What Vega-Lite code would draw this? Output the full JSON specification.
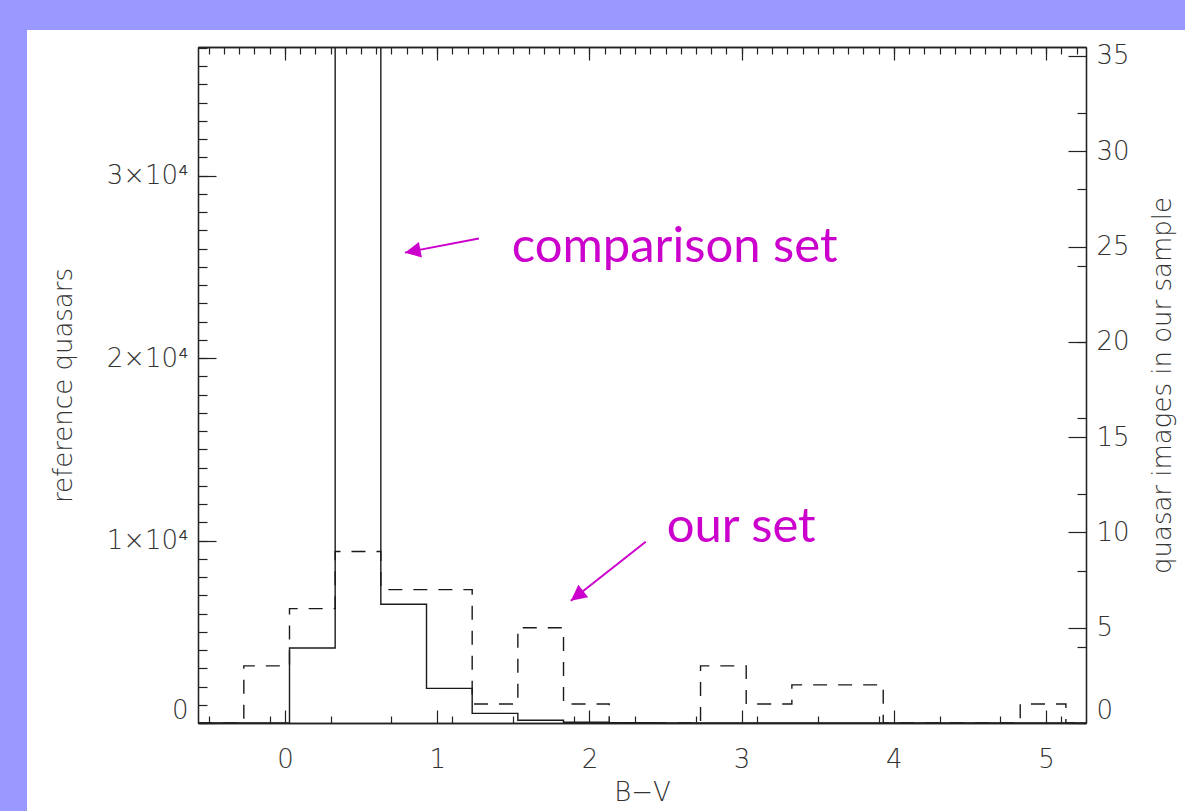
{
  "$schema": "https://vega.github.io/schema/vega-lite/v6.json",
  "width": 888,
  "height": 676,
  "autosize": {"type": "none"},
  "padding": {"left": 198, "top": 47, "right": 99, "bottom": 88},
  "background": "#9999ff",
  "config": {
    "view": {"stroke": null},
    "axis": {
      "grid": false,
      "labelFont": "DejaVu Sans",
      "titleFont": "DejaVu Sans",
      "labelFontWeight": 200,
      "titleFontWeight": 200,
      "labelColor": "#333333",
      "titleColor": "#333333",
      "labelFontSize": 26,
      "titleFontSize": 26,
      "domainColor": "#222222",
      "tickColor": "#222222",
      "domainWidth": 1.3,
      "tickWidth": 1.2,
      "labelOverlap": false
    }
  },
  "datasets": {
    "comparison": [
      {"bv": -0.571, "n": 0},
      {"bv": 0.03, "n": 4110},
      {"bv": 0.33, "n": 60000},
      {"bv": 0.63, "n": 6510},
      {"bv": 0.93, "n": 1900},
      {"bv": 1.23, "n": 530},
      {"bv": 1.53, "n": 150},
      {"bv": 1.83, "n": 40},
      {"bv": 2.13, "n": 12},
      {"bv": 2.43, "n": 6},
      {"bv": 2.73, "n": 4},
      {"bv": 3.03, "n": 2},
      {"bv": 3.33, "n": 1},
      {"bv": 3.63, "n": 1},
      {"bv": 3.93, "n": 0},
      {"bv": 4.23, "n": 0},
      {"bv": 4.53, "n": 0},
      {"bv": 4.83, "n": 0},
      {"bv": 5.13, "n": 0},
      {"bv": 5.262, "n": 0}
    ],
    "ours": [
      {"bv": -0.571, "n": 0},
      {"bv": -0.27, "n": 3},
      {"bv": 0.03, "n": 6},
      {"bv": 0.33, "n": 9},
      {"bv": 0.63, "n": 7},
      {"bv": 0.93, "n": 7},
      {"bv": 1.23, "n": 1},
      {"bv": 1.53, "n": 5},
      {"bv": 1.83, "n": 1},
      {"bv": 2.13, "n": 0},
      {"bv": 2.43, "n": 0},
      {"bv": 2.73, "n": 3},
      {"bv": 3.03, "n": 1},
      {"bv": 3.33, "n": 2},
      {"bv": 3.63, "n": 2},
      {"bv": 3.93, "n": 0},
      {"bv": 4.23, "n": 0},
      {"bv": 4.53, "n": 0},
      {"bv": 4.83, "n": 1},
      {"bv": 5.13, "n": 0},
      {"bv": 5.262, "n": 0}
    ],
    "arrows": [
      {"x": 1.274, "y": 25.42, "x2": 0.788, "y2": 24.68, "angle": 259.3},
      {"x": 2.37, "y": 9.51, "x2": 1.878, "y2": 6.41, "angle": 231.8}
    ],
    "notes": [
      {"label": "comparison set", "x": 1.49, "y": 25266},
      {"label": "our set", "x": 2.508, "y": 9920}
    ]
  },
  "layer": [
    {
      "data": {"values": [{}]},
      "mark": {"type": "rect", "color": "white", "clip": false},
      "encoding": {
        "x": {"datum": -1.694, "type": "quantitative", "scale": {"domain": [-0.571, 5.262], "nice": false, "zero": false}, "axis": null},
        "x2": {"datum": 7},
        "y": {"datum": 37981, "type": "quantitative", "scale": {"domain": [0, 37050], "nice": false, "zero": false}, "axis": null},
        "y2": {"datum": -8000}
      }
    },
    {
      "data": {"name": "comparison"},
      "mark": {"type": "line", "interpolate": "step-after", "color": "#1a1a1a", "strokeWidth": 1.4, "clip": true},
      "encoding": {
        "x": {
          "field": "bv", "type": "quantitative",
          "scale": {"domain": [-0.571, 5.262], "nice": false, "zero": false},
          "axis": {
            "orient": "bottom", "zindex": 2, "title": "B−V", "titlePadding": 7,
            "values": [0, 1, 2, 3, 4, 5], "format": "d",
            "tickSize": -13, "labelPadding": 36
          }
        },
        "y": {
          "field": "n", "type": "quantitative",
          "scale": {"domain": [0, 37050], "nice": false, "zero": false},
          "axis": {
            "orient": "left", "zindex": 2, "title": "reference quasars", "titlePadding": 30,
            "values": [0, 10000, 20000, 30000],
            "labelExpr": "datum.value === 0 ? '0' : (datum.value / 10000) + '×10⁴'",
            "tickSize": -18, "labelPadding": 28, "labelFlush": true
          }
        }
      }
    },
    {
      "data": {"name": "ours"},
      "mark": {"type": "line", "interpolate": "step-after", "color": "#1a1a1a", "strokeWidth": 1.4, "strokeDash": [14, 11]},
      "encoding": {
        "x": {
          "field": "bv", "type": "quantitative",
          "scale": {"domain": [-0.571, 5.262], "nice": false, "zero": false},
          "axis": {
            "orient": "top", "zindex": 2, "title": null, "labels": false,
            "values": [0, 1, 2, 3, 4, 5], "tickSize": -13
          }
        },
        "y": {
          "field": "n", "type": "quantitative",
          "scale": {"domain": [0, 35.47], "nice": false, "zero": false},
          "axis": {
            "orient": "right", "zindex": 2, "title": "quasar images in our sample", "titleAngle": -90, "titlePadding": 46,
            "values": [0, 5, 10, 15, 20, 25, 30, 35], "format": "d",
            "tickSize": -18, "labelPadding": 28, "labelFlush": true
          }
        }
      }
    },
    {
      "data": {"name": "arrows"},
      "layer": [
        {
          "mark": {"type": "rule", "color": "#cc00cc", "strokeWidth": 2},
          "encoding": {
            "x": {
              "field": "x", "type": "quantitative",
              "scale": {"domain": [-0.571, 5.262], "nice": false, "zero": false},
              "axis": {
                "orient": "bottom", "zindex": 2, "title": null, "labels": false,
                "values": [-0.5,-0.4,-0.3,-0.2,-0.1,0,0.1,0.2,0.3,0.4,0.5,0.6,0.7,0.8,0.9,1,1.1,1.2,1.3,1.4,1.5,1.6,1.7,1.8,1.9,2,2.1,2.2,2.3,2.4,2.5,2.6,2.7,2.8,2.9,3,3.1,3.2,3.3,3.4,3.5,3.6,3.7,3.8,3.9,4,4.1,4.2,4.3,4.4,4.5,4.6,4.7,4.8,4.9,5,5.1,5.2],
                "tickSize": -7
              }
            },
            "y": {
              "field": "y", "type": "quantitative",
              "scale": {"domain": [0, 35.47], "nice": false, "zero": false},
              "axis": {
                "orient": "right", "zindex": 2, "title": null, "labels": false,
                "values": [0,1,2,3,4,5,6,7,8,9,10,11,12,13,14,15,16,17,18,19,20,21,22,23,24,25,26,27,28,29,30,31,32,33,34,35],
                "tickSize": -9
              }
            },
            "x2": {"field": "x2"},
            "y2": {"field": "y2"}
          }
        },
        {
          "mark": {"type": "point", "shape": "M0,0L0.5,1L-0.5,1Z", "filled": true, "color": "#cc00cc", "opacity": 1, "size": 1000},
          "encoding": {
            "x": {"field": "x2", "type": "quantitative"},
            "y": {"field": "y2", "type": "quantitative"},
            "angle": {"field": "angle", "type": "quantitative", "scale": null}
          }
        }
      ]
    },
    {
      "data": {"name": "notes"},
      "mark": {"type": "text", "color": "#cc00cc", "font": "Lato", "fontSize": 49, "align": "left", "baseline": "alphabetic"},
      "encoding": {
        "x": {
          "field": "x", "type": "quantitative",
          "scale": {"domain": [-0.571, 5.262], "nice": false, "zero": false},
          "axis": {
            "orient": "top", "zindex": 2, "title": null, "labels": false,
            "values": [-0.5,-0.4,-0.3,-0.2,-0.1,0,0.1,0.2,0.3,0.4,0.5,0.6,0.7,0.8,0.9,1,1.1,1.2,1.3,1.4,1.5,1.6,1.7,1.8,1.9,2,2.1,2.2,2.3,2.4,2.5,2.6,2.7,2.8,2.9,3,3.1,3.2,3.3,3.4,3.5,3.6,3.7,3.8,3.9,4,4.1,4.2,4.3,4.4,4.5,4.6,4.7,4.8,4.9,5,5.1,5.2],
            "tickSize": -7
          }
        },
        "y": {
          "field": "y", "type": "quantitative",
          "scale": {"domain": [0, 37050], "nice": false, "zero": false},
          "axis": {
            "orient": "left", "zindex": 2, "title": null, "labels": false,
            "values": [0,1000,2000,3000,4000,5000,6000,7000,8000,9000,10000,11000,12000,13000,14000,15000,16000,17000,18000,19000,20000,21000,22000,23000,24000,25000,26000,27000,28000,29000,30000,31000,32000,33000,34000,35000,36000,37000],
            "tickSize": -9
          }
        },
        "text": {"field": "label"}
      }
    }
  ],
  "resolve": {"scale": {"y": "independent"}, "axis": {"x": "independent", "y": "independent"}}
}
